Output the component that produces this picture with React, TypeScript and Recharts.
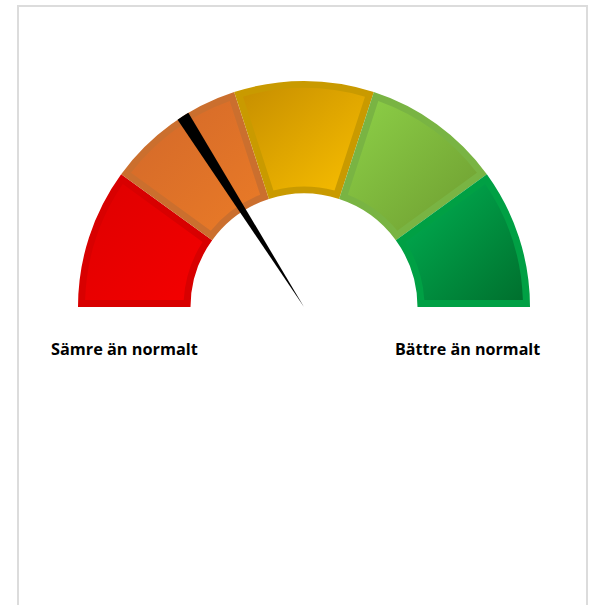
import React from 'react';
import { PieChart, Pie, Cell } from 'recharts';

// gauge bands, left (worse) to right (better)
const bandNames = ['Mycket sämre', 'Sämre', 'Normalt', 'Bättre', 'Mycket bättre'];
const bandValues = [20, 20, 20, 20, 20];
const bandEdge = ['#d80000', '#cb6f2e', '#c99a00', '#79b443', '#00a044'];
const bandFrom = ['#de0000', '#d2682a', '#c78f00', '#8dd047', '#00b152'];
const bandTo = ['#f40000', '#ea7b27', '#f8be00', '#6e9d31', '#00702e'];

// needle position on a 0..100 scale
const needleValue = 32;
const needleWidth = 1.8;
const scaleMax = 100;

const leftLabel = 'Sämre än normalt';
const rightLabel = 'Bättre än normalt';

const bands = bandNames.map((name, i) => ({ name, value: bandValues[i] }));
const needle = [
    { name: 'före', value: needleValue - needleWidth / 2 },
    { name: 'nål', value: needleWidth },
    { name: 'efter', value: scaleMax - needleValue - needleWidth / 2 },
];

const RADIAN = Math.PI / 180;
const INSET = 7;

interface sectorType {
    cx: number,
    cy: number,
    innerRadius: number,
    outerRadius: number,
    startAngle: number,
    endAngle: number,
    index: number,
}

const pt = (cx: number, cy: number, r: number, a: number) =>
    `${cx + r * Math.cos(-a * RADIAN)},${cy + r * Math.sin(-a * RADIAN)}`;

// inner bevelled face of each band, inset by a constant distance
const renderFace = ({ cx, cy, innerRadius, outerRadius, startAngle, endAngle, index }: sectorType) => {
    const r1 = innerRadius + INSET;
    const r2 = outerRadius - INSET;
    const o2 = Math.asin(INSET / r2) / RADIAN;
    const o1 = Math.asin(INSET / r1) / RADIAN;
    const d = [
        `M${pt(cx, cy, r2, startAngle - o2)}`,
        `A${r2},${r2} 0 0 1 ${pt(cx, cy, r2, endAngle + o2)}`,
        `L${pt(cx, cy, r1, endAngle + o1)}`,
        `A${r1},${r1} 0 0 0 ${pt(cx, cy, r1, startAngle - o1)}`,
        'Z',
    ].join(' ');
    return <path key={`face-${index}`} d={d} fill={`url(#face${index})`} stroke="none" />;
};

// needle drawn in the label layer so it sits above the band faces
const renderNeedle = ({ cx, cy, outerRadius, startAngle, endAngle, index }: sectorType) => {
    if (index !== 1) return <g key={`n-${index}`} />;
    const d = `M${cx},${cy} L${pt(cx, cy, outerRadius, startAngle)} A${outerRadius},${outerRadius} 0 0 1 ${pt(cx, cy, outerRadius, endAngle)} Z`;
    return <path key={`n-${index}`} d={d} fill="#000" stroke="none" />;
};

const labelStyle = { fontFamily: "'Open Sans', sans-serif", fontWeight: 700 };

const App: React.FC = () => {
    return (
        <div style={{ position: 'absolute', left: 0, top: 0, width: 593, height: 605, overflow: 'hidden', background: '#fff' }}>
            <div style={{ position: 'absolute', left: 17, top: 5, width: 567, height: 610, border: '2px solid #dcdcdc' }} />
            <div style={{ position: 'absolute', left: 0, top: 0 }}>
                <PieChart width={593} height={605} margin={{ top: 0, right: 0, bottom: 0, left: 0 }}>
                    <defs>
                        {bandFrom.map((c, i) => (
                            <linearGradient key={i} id={`face${i}`} x1="0" y1="0" x2="1" y2="1">
                                <stop offset="0%" stopColor={c} />
                                <stop offset="100%" stopColor={bandTo[i]} />
                            </linearGradient>
                        ))}
                    </defs>
                    <Pie
                        data={bands}
                        dataKey="value"
                        cx={304}
                        cy={307}
                        innerRadius={113.5}
                        outerRadius={226}
                        startAngle={180}
                        endAngle={0}
                        stroke="none"
                        label={renderFace}
                        labelLine={false}
                        isAnimationActive={false}
                    >
                        {bands.map((entry, index) => (
                            <Cell key={`band-${index}`} fill={bandEdge[index]} />
                        ))}
                    </Pie>
                    <Pie
                        data={needle}
                        dataKey="value"
                        cx={304}
                        cy={307}
                        innerRadius={0}
                        outerRadius={226}
                        startAngle={180}
                        endAngle={0}
                        stroke="none"
                        label={renderNeedle}
                        labelLine={false}
                        isAnimationActive={false}
                    >
                        {needle.map((entry, index) => (
                            <Cell key={`needle-${index}`} fill="transparent" />
                        ))}
                    </Pie>
                    <text x={51} y={355} {...labelStyle} fontSize={16.3} fill="#000">
                        {leftLabel}
                    </text>
                    <text x={395} y={355} {...labelStyle} fontSize={16.1} fill="#000">
                        {rightLabel}
                    </text>
                </PieChart>
            </div>
        </div>
    );
};

export default App;
